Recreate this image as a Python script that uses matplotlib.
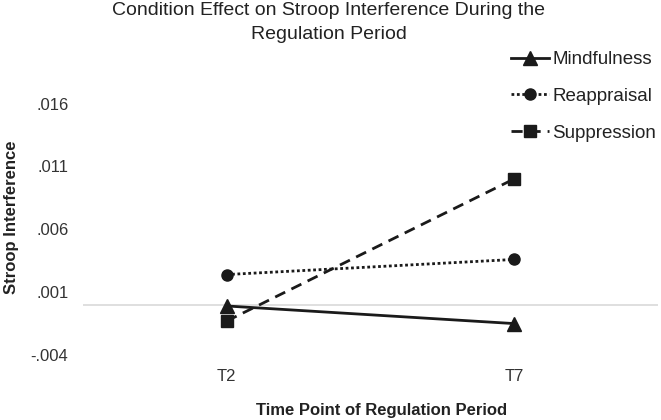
import matplotlib
matplotlib.use("Agg")
import matplotlib.pyplot as plt
import matplotlib.ticker as mticker

plt.rcParams['font.family'] = ['Liberation Sans', 'DejaVu Sans']

time_points = ["T2", "T7"]
mindfulness = [-0.0001, -0.0015]
reappraisal = [0.0024, 0.0036]
suppression = [-0.0013, 0.0100]
y_ticks = [-0.004, 0.001, 0.006, 0.011, 0.016]

W, H = 661, 420
fig = plt.figure(figsize=(W / 100, H / 100), dpi=100)
ax = fig.add_axes([83 / W, (H - 355) / H, (657.6 - 83) / W, (355 - 103.6) / H])

x = list(range(len(time_points)))
ax.plot(x, mindfulness, color='#1a1a1a', lw=2.0, ls='-', marker='^', ms=10, label='Mindfulness', clip_on=False)
ax.plot(x, reappraisal, color='#1a1a1a', lw=2.0, ls=(0, (1, 0.95)), marker='o', ms=8, label='Reappraisal', clip_on=False)
ax.plot(x, suppression, color='#1a1a1a', lw=2.0, ls=(0, (4, 2.5)), marker='s', ms=8, label='Suppression', clip_on=False)

ax.axhline(0, color='#d9d9d9', lw=1.2, zorder=0)
ax.set_xlim(-0.5, 1.5)
ax.set_ylim(-0.004, 0.016)
ax.set_yticks(y_ticks)
ax.yaxis.set_major_formatter(mticker.FuncFormatter(lambda v, p: ("%.3f" % v).replace("0.", ".")))
ax.set_xticks(x)
ax.set_xticklabels(time_points)
for s in ax.spines.values():
    s.set_visible(False)
ax.tick_params(axis='both', length=0, labelsize=12, colors='#333333')
ax.tick_params(axis='y', pad=10.5)
ax.tick_params(axis='x', pad=10)

fig.text(382 / W, 1 - 410 / H, "Time Point of Regulation Period", ha='center', va='center',
         fontsize=12, fontweight='bold', color='#222222')
fig.text(12 / W, 1 - 217 / H, "Stroop Interference", ha='center', va='center', rotation=90,
         fontsize=12, fontweight='bold', color='#222222')

fig.text(329 / W, 1 - 2 / H, "Condition Effect on Stroop Interference During the\nRegulation Period",
         ha='center', va='top', fontsize=14, color='#222222', linespacing=1.55)

leg = fig.legend(loc='upper left', bbox_to_anchor=(511 / W, 1 - 51 / H), frameon=False,
                 fontsize=13.5, handlelength=2.0, handletextpad=0.2, labelspacing=1.05,
                 borderaxespad=0, borderpad=0)
for t in leg.get_texts():
    t.set_color('#222222')

fig.savefig("out.png", dpi=100)
